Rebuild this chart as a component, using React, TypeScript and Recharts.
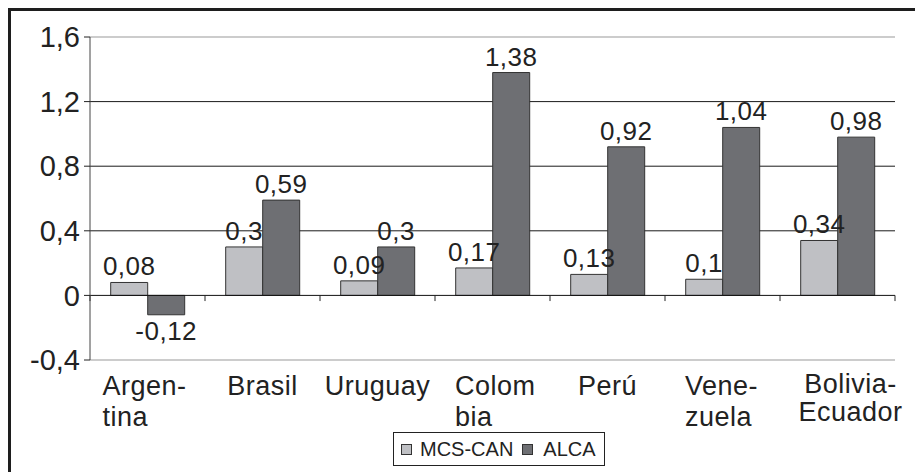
import React from 'react';
import { BarChart, Bar, XAxis, YAxis, CartesianGrid, ReferenceLine, LabelList, Legend } from 'recharts';

const categories = ['Argentina', 'Brasil', 'Uruguay', 'Colombia', 'Perú', 'Venezuela', 'Bolivia-Ecuador'];
const categoryLabelLines = [
  ['Argen-', 'tina'],
  ['Brasil'],
  ['Uruguay'],
  ['Colom', 'bia'],
  ['Perú'],
  ['Vene-', 'zuela'],
  ['Bolivia-', 'Ecuador'],
];
const mcsCanValues = [0.08, 0.3, 0.09, 0.17, 0.13, 0.1, 0.34];
const alcaValues = [-0.12, 0.59, 0.3, 1.38, 0.92, 1.04, 0.98];
const yTicks = [-0.4, 0, 0.4, 0.8, 1.2, 1.6];
const gridValues = [0.4, 0.8, 1.2];
const seriesNames = ['MCS-CAN', 'ALCA'];

const data = categories.map((name, i) => ({ name, mcs: mcsCanValues[i], alca: alcaValues[i] }));

const FONT = '"Liberation Sans", Arial, Helvetica, sans-serif';
const TEXT = '#222';
const LIGHT = '#bfc0c4';
const DARK = '#6e6f73';
const fmt = (v: any) => String(v).replace('.', ',');

const CategoryTick = (props: any) => {
  const { x, y, payload } = props;
  const idx = categories.indexOf(payload.value);
  const lines = categoryLabelLines[idx] || [String(payload.value)];
  const continuation = lines.length > 1 && lines[1][0] === lines[1][0].toLowerCase();
  const anchor = continuation ? 'start' : 'middle';
  const startX = continuation ? x - (lines[0].length * 15) / 2 : lines.length > 1 ? x + 13 : x;
  const lineGap = continuation ? 31 : 28;
  const firstBaseline = continuation || lines.length === 1 ? 35 : 33;
  return (
    <g>
      {lines.map((l, i) => (
        <text
          key={i}
          x={startX}
          y={y + firstBaseline + i * lineGap}
          textAnchor={anchor}
          fontFamily={FONT}
          fontSize={27}
          letterSpacing={0.5}
          fill={TEXT}
        >
          {l}
        </text>
      ))}
    </g>
  );
};

const LegendBox = () => (
  <div
    style={{
      display: 'inline-flex',
      alignItems: 'center',
      border: '1px solid #222',
      padding: '4px 8px 4px 7px',
      background: '#fff',
      fontFamily: FONT,
      fontSize: 20,
      color: TEXT,
      lineHeight: '24px',
      whiteSpace: 'nowrap',
    }}
  >
    <span style={{ display: 'inline-block', width: 9, height: 9, background: LIGHT, border: '1px solid #333', marginRight: 8 }} />
    <span>{seriesNames[0]}</span>
    <span style={{ display: 'inline-block', width: 9, height: 9, background: DARK, border: '1px solid #333', marginLeft: 9, marginRight: 10 }} />
    <span>{seriesNames[1]}</span>
  </div>
);

export default function App() {
  return (
    <div style={{ position: 'fixed', left: 0, top: 0, width: 915, height: 472, overflow: 'hidden', background: '#fff' }}>
      <div
        style={{
          position: 'absolute',
          left: 8,
          top: 8,
          width: 930,
          height: 490,
          border: '3px solid #1e1e1e',
          boxSizing: 'border-box',
        }}
      />
      <div style={{ position: 'absolute', left: 0, top: 0 }}>
        <BarChart
          width={915}
          height={472}
          data={data}
          margin={{ top: 37, right: 20, bottom: 0, left: 0 }}
          barCategoryGap="18%"
          barGap={0}
        >
          <CartesianGrid vertical={false} horizontalValues={gridValues} stroke="#1a1a1a" />
          <XAxis
            dataKey="name"
            height={112}
            axisLine={{ stroke: '#999' }}
            tickLine={false}
            tickSize={0}
            tickMargin={0}
            interval={0}
            tick={<CategoryTick />}
          />
          <YAxis
            width={90}
            domain={[-0.4, 1.6]}
            ticks={yTicks}
            tickFormatter={fmt}
            axisLine={{ stroke: '#444' }}
            tickLine={{ stroke: '#222' }}
            tickSize={6}
            tickMargin={4}
            tick={{ fontFamily: FONT, fontSize: 29, fill: TEXT }}
          />
          <YAxis
            yAxisId="right"
            orientation="right"
            width={0}
            tick={false}
            tickLine={false}
            axisLine={{ stroke: '#999' }}
          />
          <ReferenceLine y={1.6} stroke="#999" />
          <Legend
            layout="horizontal"
            verticalAlign="middle"
            align="center"
            content={<LegendBox />}
            wrapperStyle={{ top: 432, left: 393, width: 'auto' }}
          />
          <Bar dataKey="mcs" name={seriesNames[0]} fill={LIGHT} stroke="#333" strokeWidth={1} isAnimationActive={false}>
            <LabelList
              dataKey="mcs"
              position="top"
              offset={7}
              formatter={fmt}
              style={{ fontFamily: FONT, fontSize: 26, fill: TEXT, letterSpacing: 0.5 }}
            />
          </Bar>
          <Bar dataKey="alca" name={seriesNames[1]} fill={DARK} stroke="#333" strokeWidth={1} isAnimationActive={false}>
            <LabelList
              dataKey="alca"
              position="top"
              offset={7}
              formatter={fmt}
              style={{ fontFamily: FONT, fontSize: 26, fill: TEXT, letterSpacing: 0.5 }}
            />
          </Bar>
          <ReferenceLine y={0} stroke="#111" strokeWidth={1} />
          {categories.map((c) => (
            <ReferenceLine
              key={c}
              segment={[{ x: c, y: 0 }, { x: c, y: -0.035 }]}
              position="start"
              stroke="#222"
            />
          ))}
          <ReferenceLine
            segment={[{ x: categories[categories.length - 1], y: 0 }, { x: categories[categories.length - 1], y: -0.035 }]}
            position="end"
            stroke="#222"
          />
        </BarChart>
      </div>
    </div>
  );
}
